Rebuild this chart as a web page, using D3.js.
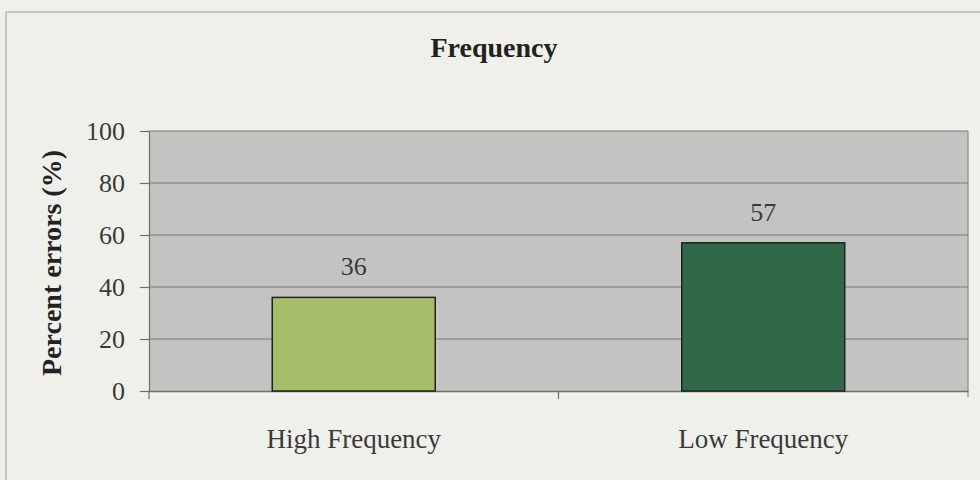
<!DOCTYPE html>
<html>
<head>
<meta charset="utf-8">
<script src="https://cdn.jsdelivr.net/npm/d3@7"></script>
<style>
  html, body { margin: 0; padding: 0; background: #eef0e9; }
  svg { display: block; }
  text { font-family: "Liberation Serif", "DejaVu Serif", serif; }
</style>
</head>
<body>
<svg id="chart" width="980" height="480"></svg>
<script>
const categories = ["High Frequency", "Low Frequency"];
const values = [36, 57];
const barColors = ["#a5bd68", "#2f6947"];
const yTicks = [0, 20, 40, 60, 80, 100];
const chartTitle = "Frequency";
const yTitle = "Percent errors (%)";

const svg = d3.select("#chart");
const W = 980, H = 480;
const plot = { left: 149, right: 968, top: 131, bottom: 391 };

// outer frame
svg.append("rect").attr("width", W).attr("height", H).attr("fill", "#eef0e9");
svg.append("rect").attr("x", 6).attr("y", 12).attr("width", W + 10).attr("height", H + 10)
  .attr("fill", "none").attr("stroke", "#9a9c98").attr("stroke-width", 1);

const x = d3.scaleBand().domain(categories).range([plot.left, plot.right]).paddingInner(0).paddingOuter(0);
const y = d3.scaleLinear().domain([0, 100]).range([plot.bottom, plot.top]);

// plot background
svg.append("rect").attr("x", plot.left).attr("y", plot.top)
  .attr("width", plot.right - plot.left).attr("height", plot.bottom - plot.top)
  .attr("fill", "#c3c3c1");

// gridlines
svg.append("g").selectAll("line").data(yTicks.filter(d => d > 0)).join("line")
  .attr("x1", plot.left).attr("x2", plot.right)
  .attr("y1", d => y(d)).attr("y2", d => y(d))
  .attr("stroke", "#7b7c7a").attr("stroke-width", 1.2);

// right border
svg.append("line").attr("x1", plot.right).attr("x2", plot.right)
  .attr("y1", plot.top).attr("y2", plot.bottom + 6)
  .attr("stroke", "#8a8b89").attr("stroke-width", 1.2);

// y axis
const yAxis = d3.axisLeft(y).tickValues(yTicks).tickSize(9).tickPadding(15);
const gy = svg.append("g").attr("transform", `translate(${plot.left},0)`).call(yAxis);
gy.attr("font-family", null).attr("font-size", null);
gy.select(".domain").attr("stroke", "#6e6f6d").attr("stroke-width", 1.2);
gy.selectAll(".tick line").attr("stroke", "#6e6f6d").attr("stroke-width", 1.2);
gy.selectAll(".tick text").attr("font-size", 26).attr("fill", "#3a3a3a");

// x axis
const xAxis = d3.axisBottom(x).tickSize(0).tickPadding(0).tickFormat("");
const gx = svg.append("g").attr("transform", `translate(0,${plot.bottom})`).call(xAxis);
gx.select(".domain").attr("stroke", "#6e6f6d").attr("stroke-width", 1.5);
// category boundary ticks
svg.append("g").selectAll("line").data(categories.slice(1)).join("line")
  .attr("x1", d => x(d)).attr("x2", d => x(d))
  .attr("y1", plot.bottom).attr("y2", plot.bottom + 8)
  .attr("stroke", "#6e6f6d").attr("stroke-width", 1.2);
svg.append("line").attr("x1", plot.left).attr("x2", plot.left)
  .attr("y1", plot.bottom).attr("y2", plot.bottom + 8)
  .attr("stroke", "#6e6f6d").attr("stroke-width", 1.2);

// category labels
svg.append("g").selectAll("text").data(categories).join("text")
  .attr("x", d => x(d) + x.bandwidth() / 2)
  .attr("y", 448)
  .attr("text-anchor", "middle")
  .attr("font-size", 27).attr("fill", "#3a3a3a")
  .text(d => d);

// bars
const barW = 163;
svg.append("g").selectAll("rect").data(values).join("rect")
  .attr("x", (d, i) => x(categories[i]) + x.bandwidth() / 2 - barW / 2)
  .attr("y", d => y(d))
  .attr("width", barW)
  .attr("height", d => y(0) - y(d))
  .attr("fill", (d, i) => barColors[i])
  .attr("stroke", "#222").attr("stroke-width", 1.5);

// value labels
svg.append("g").selectAll("text").data(values).join("text")
  .attr("x", (d, i) => x(categories[i]) + x.bandwidth() / 2)
  .attr("y", d => y(d) - 22)
  .attr("text-anchor", "middle")
  .attr("font-size", 26).attr("fill", "#3a3a3a")
  .text(d => d);

// title
svg.append("text").attr("x", 494).attr("y", 57).attr("text-anchor", "middle")
  .attr("font-size", 28).attr("font-weight", "bold").attr("fill", "#222")
  .text(chartTitle);

// y title
svg.append("text")
  .attr("transform", `translate(61,${(plot.top + plot.bottom) / 2 + 2}) rotate(-90)`)
  .attr("text-anchor", "middle")
  .attr("font-size", 28).attr("font-weight", "bold").attr("fill", "#222")
  .text(yTitle);
</script>
</body>
</html>
